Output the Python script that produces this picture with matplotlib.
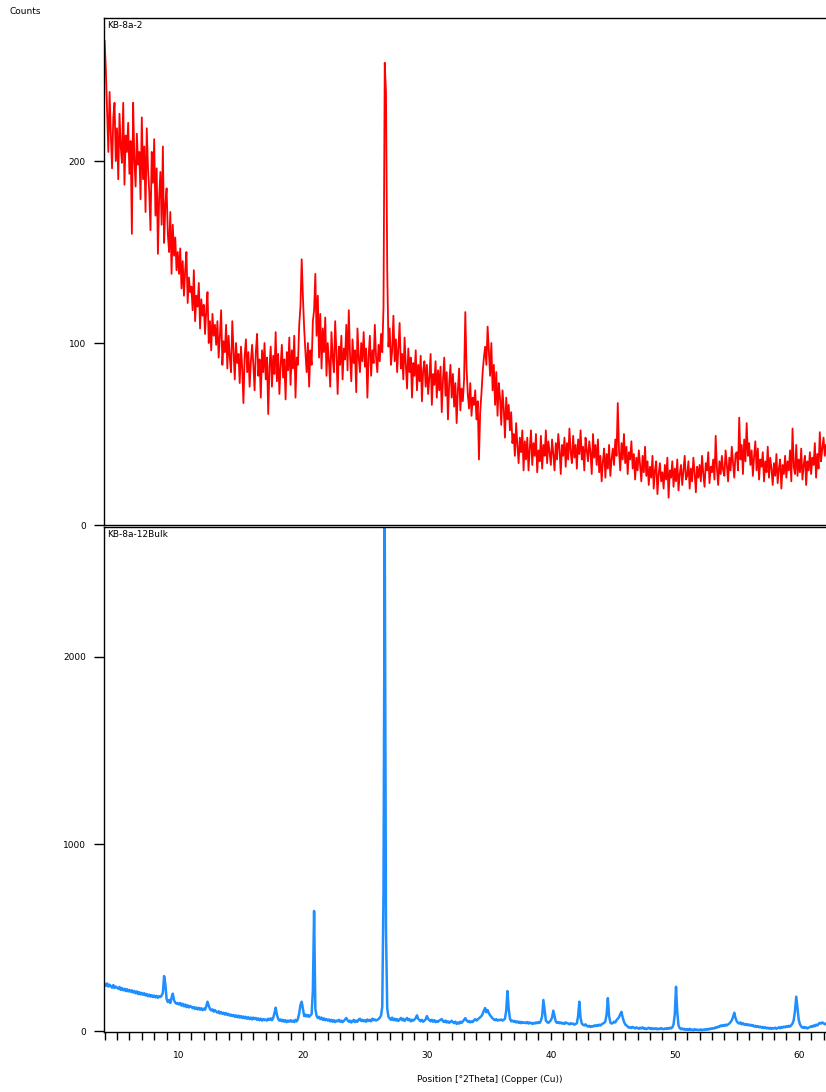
import numpy as np
import matplotlib.pyplot as plt

# 2Theta positions, 0.1 deg steps from 4.0 to 62.2
two_theta = np.round(np.arange(40, 623) / 10.0, 1)

# KB-8a-2 counts (one row per degree)
counts_a2 = [
    266, 250, 228, 205, 238, 215, 196, 224, 232, 200,
    218, 190, 226, 208, 199, 232, 187, 214, 205, 221,
    193, 211, 160, 232, 201, 186, 215, 198, 205, 179,
    224, 190, 208, 172, 218, 196, 183, 162, 205, 188,
    212, 170, 196, 149, 180, 194, 165, 208, 155, 176,
    185, 160, 150, 172, 138, 165, 148, 158, 140, 150,
    138, 152, 130, 145, 126, 140, 150, 122, 136, 128,
    131, 118, 140, 112, 126, 120, 133, 108, 124, 115,
    121, 105, 118, 128, 100, 112, 96, 116, 104, 110,
    99, 112, 92, 104, 118, 88, 101, 95, 110, 86,
    104, 92, 84, 112, 96, 80, 100, 89, 94, 78,
    98, 86, 67, 93, 102, 84, 95, 76, 90, 99,
    88, 74, 95, 105, 82, 91, 70, 96, 84, 100,
    80, 92, 61, 87, 98, 76, 93, 83, 106, 79,
    94, 72, 88, 99, 81, 91, 69, 95, 85, 103,
    77, 96, 86, 104, 70, 92, 88, 110, 120, 146,
    125, 108, 95, 84, 100, 76, 96, 88, 112, 118,
    138, 104, 126, 92, 116, 86, 108, 95, 114, 82,
    100, 90, 76, 106, 92, 84, 112, 95, 72, 98,
    88, 104, 80, 97, 91, 110, 85, 118, 93, 79,
    102, 89, 96, 73, 108, 92, 84, 100, 90, 106,
    87, 97, 70, 93, 104, 82, 96, 89, 110, 92,
    84, 99, 90, 105, 95, 120, 254, 238, 140, 98,
    108, 88, 96, 115, 90, 102, 84, 98, 111, 86,
    94, 80, 103, 88, 75, 97, 84, 92, 70, 89,
    82, 96, 74, 88, 79, 93, 68, 85, 90, 76,
    88, 72, 81, 94, 66, 83, 77, 90, 70, 85,
    74, 87, 62, 80, 92, 71, 84, 58, 78, 88,
    70, 83, 65, 78, 56, 74, 86, 63, 75, 68,
    80, 117, 86, 72, 64, 78, 60, 70, 66, 74,
    58, 68, 36, 62, 72, 84, 92, 98, 88, 109,
    95, 82, 100, 74, 88, 66, 84, 60, 78, 70,
    55, 74, 64, 48, 70, 58, 66, 52, 62, 45,
    50, 38, 56, 44, 34, 48, 40, 52, 30, 46,
    36, 48, 30, 42, 52, 33, 45, 38, 50, 29,
    41, 35, 49, 31, 44, 38, 52, 34, 46, 40,
    33, 47, 39, 30, 45, 36, 50, 42, 28, 44,
    38, 48, 32, 45, 36, 53, 40, 34, 49, 37,
    44, 31, 47, 39, 52, 36, 43, 30, 48, 41,
    35, 46, 40, 28, 50, 37, 44, 33, 47, 29,
    38, 24, 35, 42, 26, 39, 31, 44, 27, 36,
    42, 33, 47, 38, 67, 41, 30, 45, 36, 50,
    34, 43, 28, 40, 36, 46, 31, 39, 25, 37,
    30, 41, 33, 24, 38, 29, 43, 27, 35, 22,
    32, 26, 38, 20, 30, 35, 17, 28, 34, 24,
    29, 20, 33, 25, 37, 15, 30, 26, 35, 21,
    31, 24, 36, 19, 28, 33, 22, 30, 38, 25,
    27, 35, 20, 31, 24, 37, 29, 18, 32, 26,
    33, 24, 38, 28, 21, 34, 30, 40, 23, 32,
    29, 36, 25, 49, 31, 22, 35, 28, 38, 30,
    27, 41, 33, 24, 37, 30, 43, 34, 26, 39,
    40, 30, 59, 36, 44, 28, 47, 35, 56, 38,
    45, 33, 41, 27, 38, 46, 30, 42, 25, 36,
    32, 40, 24, 35, 29, 43, 26, 37, 31, 22,
    34, 27, 39, 23, 31, 36, 20, 33, 28, 38,
    26, 35, 30, 41, 24, 53, 32, 28, 44, 27,
    36, 29, 42, 25, 33, 38, 22, 35, 30, 40,
    28, 37, 33, 45, 26, 39, 31, 51, 35, 42,
    48, 38, 44,
]

# KB-8a-12Bulk counts (one row per degree)
counts_12bulk = [
    250, 242, 255, 238, 248, 240, 232, 246, 230, 238,
    232, 226, 236, 220, 230, 218, 226, 214, 224, 212,
    220, 210, 218, 206, 214, 202, 212, 198, 208, 196,
    204, 194, 202, 190, 198, 186, 195, 184, 192, 182,
    190, 180, 188, 178, 186, 182, 190, 205, 294, 250,
    172, 155, 166, 150, 178, 200, 165, 152, 146, 150,
    142, 150, 136, 146, 132, 142, 128, 138, 126, 134,
    130, 122, 128, 118, 126, 116, 124, 114, 122, 112,
    120, 114, 132, 157, 136, 118, 110, 116, 104, 112,
    104, 98, 106, 94, 102, 92, 98, 88, 96, 86,
    92, 82, 88, 80, 86, 76, 84, 74, 82, 72,
    80, 70, 78, 68, 76, 66, 74, 64, 72, 62,
    72, 64, 70, 60, 68, 58, 66, 56, 64, 58,
    62, 56, 66, 60, 68, 58, 70, 95, 125, 88,
    66, 56, 62, 52, 60, 50, 58, 48, 56, 50,
    58, 50, 56, 48, 60, 52, 66, 95, 140, 157,
    120, 80, 88, 78, 86, 76, 84, 90, 215, 642,
    120, 82, 70, 76, 64, 72, 60, 68, 58, 64,
    56, 62, 52, 60, 50, 58, 48, 56, 52, 60,
    50, 56, 48, 54, 62, 70, 58, 50, 56, 46,
    52, 60, 48, 56, 50, 62, 66, 54, 60, 52,
    58, 50, 62, 54, 60, 52, 66, 58, 62, 56,
    60, 64, 72, 82, 130, 750, 2690, 540, 120, 76,
    68, 60, 72, 58, 66, 56, 64, 54, 62, 70,
    58, 66, 54, 62, 70, 58, 64, 52, 60, 56,
    62, 70, 84, 66, 58, 52, 60, 50, 56, 62,
    80, 66, 58, 52, 60, 50, 58, 48, 54, 50,
    56, 60, 64, 52, 48, 56, 46, 52, 44, 50,
    55, 48, 42, 50, 38, 46, 40, 50, 44, 52,
    60, 69, 58, 50, 54, 46, 52, 48, 58, 64,
    56, 62, 68, 74, 80, 92, 110, 123, 100, 112,
    96, 84, 76, 68, 62, 58, 64, 56, 60, 58,
    62, 56, 60, 66, 110, 214, 120, 66, 52, 56,
    50, 54, 46, 52, 44, 50, 42, 48, 44, 46,
    42, 48, 40, 46, 43, 38, 44, 40, 46, 42,
    48, 44, 56, 80, 166, 110, 56, 48, 44, 50,
    58, 72, 109, 80, 50, 44, 48, 42, 46, 40,
    44, 38, 46, 43, 40, 36, 42, 38, 40, 34,
    38, 42, 80, 157, 70, 40, 34, 30, 36, 28,
    24, 28, 22, 26, 24, 30, 26, 32, 28, 34,
    30, 36, 40, 44, 52, 90, 176, 80, 46, 40,
    43, 50, 46, 58, 66, 74, 90, 103, 72, 50,
    36, 30, 24, 18, 20, 16, 22, 18, 14, 20,
    16, 12, 18, 14, 20, 12, 16, 10, 14, 18,
    12, 16, 10, 14, 11, 15, 9, 13, 11, 16,
    12, 10, 14, 11, 16, 12, 18, 14, 20, 36,
    90, 237, 100, 30, 16, 10, 14, 8, 12, 6,
    10, 6, 12, 5, 8, 4, 10, 6, 8, 5,
    6, 9, 4, 8, 6, 10, 7, 12, 9, 14,
    12, 16, 14, 20, 18, 24, 22, 30, 26, 32,
    28, 34, 30, 36, 40, 48, 58, 75, 98, 70,
    52, 44, 40, 46, 36, 42, 34, 38, 32, 36,
    30, 34, 28, 32, 24, 28, 22, 26, 20, 24,
    18, 22, 16, 20, 14, 18, 13, 17, 12, 16,
    14, 18, 12, 16, 20, 15, 22, 18, 24, 20,
    26, 22, 28, 24, 32, 40, 60, 110, 184, 120,
    60, 36, 24, 18, 22, 16, 20, 14, 18, 22,
    26, 22, 30, 26, 34, 30, 38, 44, 40, 46,
    42, 36, 40,
]

x_ticks = [10, 20, 30, 40, 50, 60]
fs = 6.5

fig = plt.figure(figsize=(8.26, 10.92), dpi=100)
ax1 = fig.add_axes([104 / 826, 1 - 525 / 1092, 722 / 826, 507 / 1092])
ax2 = fig.add_axes([104 / 826, 1 - 1032 / 1092, 722 / 826, 505 / 1092])

ax1.plot(two_theta, counts_a2, color='#ff0000', lw=1.3)
ax2.plot(two_theta, counts_12bulk, color='#1f8fff', lw=1.8)

for ax in (ax1, ax2):
    ax.set_xlim(3.95, 62.2)
    ax.spines['right'].set_visible(False)
    for s in ('left', 'top', 'bottom'):
        ax.spines[s].set_linewidth(1.0)
    ax.tick_params(axis='y', direction='out', length=7, width=1, labelsize=fs, pad=6)

ax1.set_ylim(0, 278.6)
ax1.set_yticks([0, 100, 200])
ax1.set_xticks([])

ax2.set_ylim(-5, 2695)
ax2.set_yticks([0, 1000, 2000])
ax2.set_xticks(x_ticks)
ax2.set_xticks(np.arange(4, 63), minor=True)
ax2.tick_params(axis='x', which='both', direction='out', length=6, width=1,
                labelsize=fs, pad=8)

ax1.text(0.004, 0.995, 'KB-8a-2', transform=ax1.transAxes, fontsize=fs, va='top')
ax2.text(0.004, 0.995, 'KB-8a-12Bulk', transform=ax2.transAxes, fontsize=fs, va='top')
fig.text(10 / 826, 1 - 12 / 1092, 'Counts', fontsize=fs, va='center')
fig.text(490 / 826, 1 - 1080 / 1092, 'Position [°2Theta] (Copper (Cu))',
         fontsize=fs, ha='center', va='center')

fig.savefig('out.png', dpi=100)
